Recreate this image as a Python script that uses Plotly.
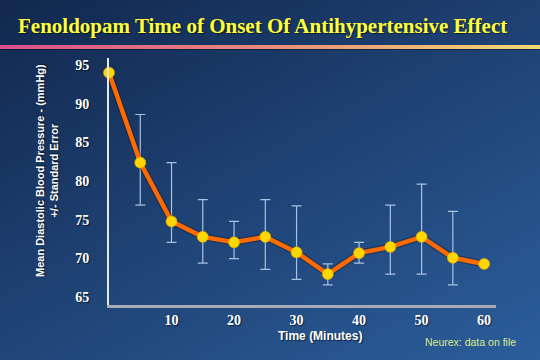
import base64, struct, zlib
import numpy as np
import plotly.graph_objects as go

# ---------------- data ----------------
time_min = [0, 5, 10, 15, 20, 25, 30, 35, 40, 45, 50, 55, 60]
mean_dbp = [94.0, 82.4, 74.8, 72.8, 72.1, 72.8, 70.8, 68.0, 70.7, 71.5, 72.8, 70.1, 69.3]
err_plus = [0, 6.2, 7.6, 4.8, 2.7, 4.8, 6.0, 1.3, 1.4, 5.4, 6.8, 6.0, 0]
err_minus = [0, 5.5, 2.7, 3.4, 2.1, 4.2, 3.5, 1.4, 1.3, 3.5, 4.8, 3.5, 0]
has_err = [False] + [True] * 11 + [False]
y_ticks = [65, 70, 75, 80, 85, 90, 95]
x_ticks = [10, 20, 30, 40, 50, 60]

W, H = 540, 360
L, R, T, B = 109, 44, 58, 55

# ---------------- background image (diagonal gradient + title rule) ----------------
yy, xx = np.mgrid[0:H, 0:W].astype(float)
t = np.clip(0.45 * xx / W + 0.55 * yy / H, 0, 1)[..., None]
c0 = np.array([18, 40, 78], float)
c1 = np.array([44, 94, 156], float)
img = c0 * (1 - t) + c1 * t
u = np.linspace(0, 1, W)[:, None]
pink = np.array([217, 79, 140], float)
mid = np.array([232, 140, 124], float)
yel = np.array([242, 218, 114], float)
rule = np.where(u < 0.5, pink * (1 - 2 * u) + mid * (2 * u), mid * (2 - 2 * u) + yel * (2 * u - 1))
img[45:49, :, :] = rule[None, :, :]
img[49:50, :, :] = img[49:50, :, :] * 0.6
img = img.astype(np.uint8)


def png_bytes(a):
    h, w, _ = a.shape
    raw = b"".join(b"\x00" + a[r].tobytes() for r in range(h))

    def chunk(tag, data):
        c = struct.pack(">I", len(data)) + tag + data
        return c + struct.pack(">I", zlib.crc32(tag + data) & 0xFFFFFFFF)

    return (b"\x89PNG\r\n\x1a\n" + chunk(b"IHDR", struct.pack(">IIBBBBB", w, h, 8, 2, 0, 0, 0))
            + chunk(b"IDAT", zlib.compress(raw, 9)) + chunk(b"IEND", b""))


bg_src = "data:image/png;base64," + base64.b64encode(png_bytes(img)).decode()

pw, ph = W - L - R, H - T - B

fig = go.Figure()

ex = [t_ for t_, h in zip(time_min, has_err) if h]
ey = [v for v, h in zip(mean_dbp, has_err) if h]
ep = [v for v, h in zip(err_plus, has_err) if h]
em = [v for v, h in zip(err_minus, has_err) if h]
fig.add_trace(go.Scatter(
    x=ex, y=ey, mode="markers", marker=dict(size=1, opacity=0),
    error_y=dict(type="data", symmetric=False, array=ep, arrayminus=em,
                 color="#a9c1e2", thickness=1.2, width=5),
    hoverinfo="skip", showlegend=False, cliponaxis=False,
))

# soft dark underlay suggesting the line's drop shadow
fig.add_trace(go.Scatter(
    x=time_min, y=mean_dbp, mode="lines",
    line=dict(color="rgba(10,20,40,0.35)", width=7),
    hoverinfo="skip", showlegend=False, cliponaxis=False,
))

fig.add_trace(go.Scatter(
    x=time_min, y=mean_dbp, mode="lines+markers",
    line=dict(color="#ff6a00", width=4.5),
    marker=dict(size=11, color="#ffd700", line=dict(color="#e6a800", width=0.6)),
    showlegend=False, cliponaxis=False,
))

tick_font = dict(family="Liberation Serif", size=14, color="white", weight="bold",
                 shadow="1px 1px 1px rgba(0,0,0,0.6)")

fig.update_layout(
    width=W, height=H,
    margin=dict(l=L, r=R, t=T, b=B),
    paper_bgcolor="#1d4272",
    plot_bgcolor="rgba(0,0,0,0)",
    images=[dict(source=bg_src, xref="paper", yref="paper",
                 x=-L / pw, y=1 + T / ph, sizex=W / pw, sizey=H / ph,
                 xanchor="left", yanchor="top", sizing="stretch", layer="below")],
    xaxis=dict(range=[0, 61.9], tickvals=x_ticks, showgrid=False, zeroline=False,
               showline=True, linecolor="#a9abb4", linewidth=3, ticks="",
               ticklabelstandoff=0, tickfont=tick_font),
    yaxis=dict(range=[64.0, 95.9], tickvals=y_ticks, showgrid=False, zeroline=False,
               showline=True, linecolor="#e6e6e6", linewidth=2, ticks="",
               ticklabelstandoff=15, tickfont=tick_font),
    annotations=[
        dict(text="Fenoldopam Time of Onset Of Antihypertensive Effect",
             xref="paper", yref="paper", x=(262 - L) / pw, y=1 + (T - 26) / ph,
             xanchor="center", yanchor="middle", showarrow=False,
             font=dict(family="Liberation Serif", size=21, color="#ffff3c", weight="bold",
                       shadow="1px 1px 1px rgba(0,0,0,0.5)")),
        dict(text="Mean Diastolic Blood Pressure - (mmHg)<br>+/- Standard Error",
             xref="paper", yref="paper", x=(47 - L) / pw, y=(H - B - 171) / ph,
             xanchor="center", yanchor="middle", textangle=-90, showarrow=False,
             font=dict(family="Liberation Sans", size=11, color="white", weight="bold",
                       shadow="1px 1px 1px rgba(0,0,0,0.6)")),
        dict(text="Time (Minutes)",
             xref="paper", yref="paper", x=(320 - L) / pw, y=-(336 - (H - B)) / ph,
             xanchor="center", yanchor="middle", showarrow=False,
             font=dict(family="Liberation Sans", size=12, color="white", weight="bold",
                       shadow="1px 1px 1px rgba(0,0,0,0.6)")),
        dict(text="Neurex: data on file",
             xref="paper", yref="paper", x=(470 - L) / pw, y=-(342 - (H - B)) / ph,
             xanchor="center", yanchor="middle", showarrow=False,
             font=dict(family="Liberation Sans", size=10.5, color="#d6ea8e")),
    ],
)

fig.write_html("out.html", config={"displayModeBar": False},
               post_script="document.body.style.margin='0px';")
